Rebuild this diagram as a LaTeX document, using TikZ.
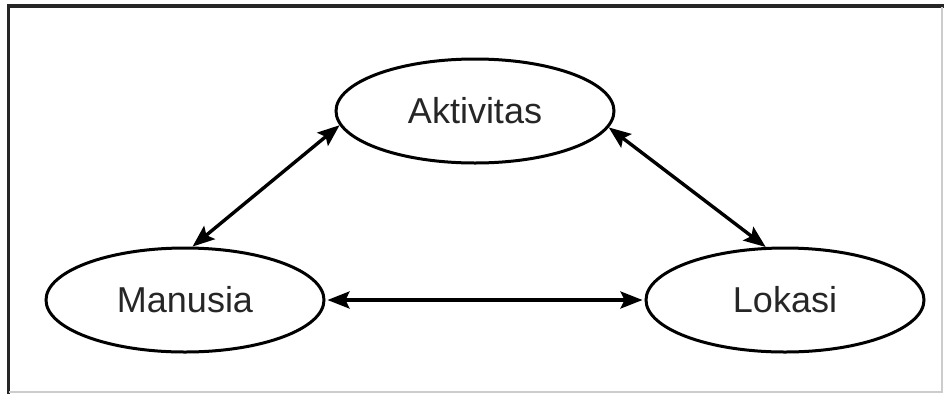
\documentclass[tikz,border=0pt]{standalone}
\usepackage{fontspec}
\setmainfont{Liberation Sans}
\usetikzlibrary{shapes.geometric,arrows.meta}
\begin{document}
\begin{tikzpicture}[x=1pt,y=-1pt,
  ell/.style={ellipse,draw=black,line width=3pt,minimum width=278pt,minimum height=104pt,inner sep=0pt,
    font=\fontsize{36}{40}\selectfont,text=black!85},
  tip/.style={Stealth[length=22pt,width=17pt,inset=4pt]},
  conn/.style={line width=3.4pt,{Stealth[length=22pt,width=17pt,inset=4pt]}-{Stealth[length=22pt,width=17pt,inset=4pt]}}]
\useasboundingbox (0,0) rectangle (944,394);
\fill[white] (0,0) rectangle (944,394);
% frame
\draw[line width=3.5pt,black!85] (8.5,394) -- (8.5,6) -- (944,6);
\draw[line width=1.5pt,black!20] (9,392) -- (942,392) -- (942,7);
% nodes
\node[ell] (A) at (475,111) {Aktivitas};
\node[ell] (M) at (185,300) {Manusia};
\node[ell] (L) at (785,300) {Lokasi};
% connectors
\draw[conn] (M.82) -- (A.186);
\draw[conn] (A.-7) -- (L.110);
\draw[conn,shorten <=2pt,shorten >=2pt] (M.east) -- (L.west);
\end{tikzpicture}
\end{document}
